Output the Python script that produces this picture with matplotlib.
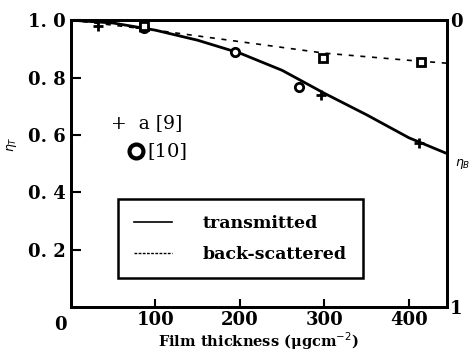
import matplotlib
matplotlib.use("Agg")
import matplotlib.pyplot as plt
from matplotlib.lines import Line2D

# Transmitted fraction (left axis) vs film thickness
trans_curve_x = [0, 50, 100, 150, 200, 250, 300, 350, 400, 445]
trans_curve_y = [1.0, 0.99, 0.965, 0.93, 0.885, 0.825, 0.745, 0.67, 0.59, 0.535]

# Back-scattered fraction (right axis, inverted) vs film thickness
back_curve_x = [0, 100, 200, 300, 400, 445]
back_curve_y = [0.0, 0.035, 0.075, 0.115, 0.14, 0.15]

# Measured points: "+" from ref. [9], "o" from ref. [10]
plus_x = [32, 82, 296, 412]
plus_y = [0.979, 0.975, 0.739, 0.571]
circ_x = [86, 194, 270]
circ_y = [0.972, 0.889, 0.767]
back_pts_x = [86, 298, 414]
back_pts_y = [0.02, 0.132, 0.146]

xticks = [100, 200, 300, 400]
yticks = [0.2, 0.4, 0.6, 0.8, 1.0]
ytick_labels = ["0. 2", "0. 4", "0. 6", "0. 8", "1. 0"]

font = "DejaVu Serif"
plt.rcParams["font.family"] = font

fig = plt.figure(figsize=(4.7, 3.6), dpi=100)
ax = fig.add_axes([0.151, 0.147, 0.80, 0.797])
ax.set_xlim(0, 445)
ax.set_ylim(0, 1.0)

ax.plot(trans_curve_x, trans_curve_y, color="black", lw=2)
ax.plot(plus_x, plus_y, linestyle="none", marker="+", color="black",
        ms=7, mew=2)
ax.plot(circ_x, circ_y, linestyle="none", marker="o", mfc="white",
        mec="black", ms=6, mew=2)

ax2 = ax.twinx()
ax2.set_ylim(1.0, 0.0)
ax2.plot(back_curve_x, back_curve_y, color="black", lw=1.2,
         linestyle=(0, (3, 4)))
ax2.plot(back_pts_x, back_pts_y, linestyle="none", marker="s", mfc="white",
         mec="black", ms=6, mew=2)
ax2.set_yticks([0, 1])
ax2.set_yticklabels(["0", "1"], fontsize=13, fontweight="bold")
ax2.tick_params(axis="y", length=0, pad=2)

for a in (ax, ax2):
    for s in a.spines.values():
        s.set_linewidth(2)

ax.set_xticks(xticks)
ax.set_xticklabels([str(v) for v in xticks], fontsize=13, fontweight="bold")
ax.tick_params(axis="x", direction="in", length=6, width=1.5, pad=3)
ax.set_yticks(yticks)
ax.set_yticklabels(ytick_labels, fontsize=13, fontweight="bold")
ax.tick_params(axis="y", direction="in", length=7, width=1.5, pad=4)
ax.text(-12, -0.03, "0", fontsize=13, fontweight="bold", ha="center",
        va="top")

ax.set_xlabel("Film thickness (μgcm$^{-2}$)", fontsize=10.5,
              fontweight="bold", labelpad=1)
fig.text(0.025, 0.60, r"$\eta_T$", rotation=90, fontsize=9,
         ha="center", va="center")
fig.text(0.985, 0.545, r"$\eta_B$", fontsize=9, ha="center", va="center")

ax.text(47, 0.64, "+  a [9]", fontsize=13.5, va="center")
ax.plot([77], [0.545], marker="o", mfc="white", mec="black", ms=10, mew=3)
ax.text(91, 0.545, "[10]", fontsize=14, va="center")

handles = [Line2D([], [], color="black", lw=1.2),
           Line2D([], [], color="black", lw=1.0, linestyle=(0, (2, 1)))]
leg = ax.legend(handles, ["transmitted", "back-scattered"],
                loc="lower left", bbox_to_anchor=(0.102, 0.07),
                fancybox=False, framealpha=1, edgecolor="black",
                prop={"size": 12.5, "weight": "bold"}, handlelength=2.2,
                borderpad=0.9, labelspacing=0.8, handletextpad=1.8)
leg.get_frame().set_linewidth(1.8)

fig.savefig("out.png", dpi=100)
